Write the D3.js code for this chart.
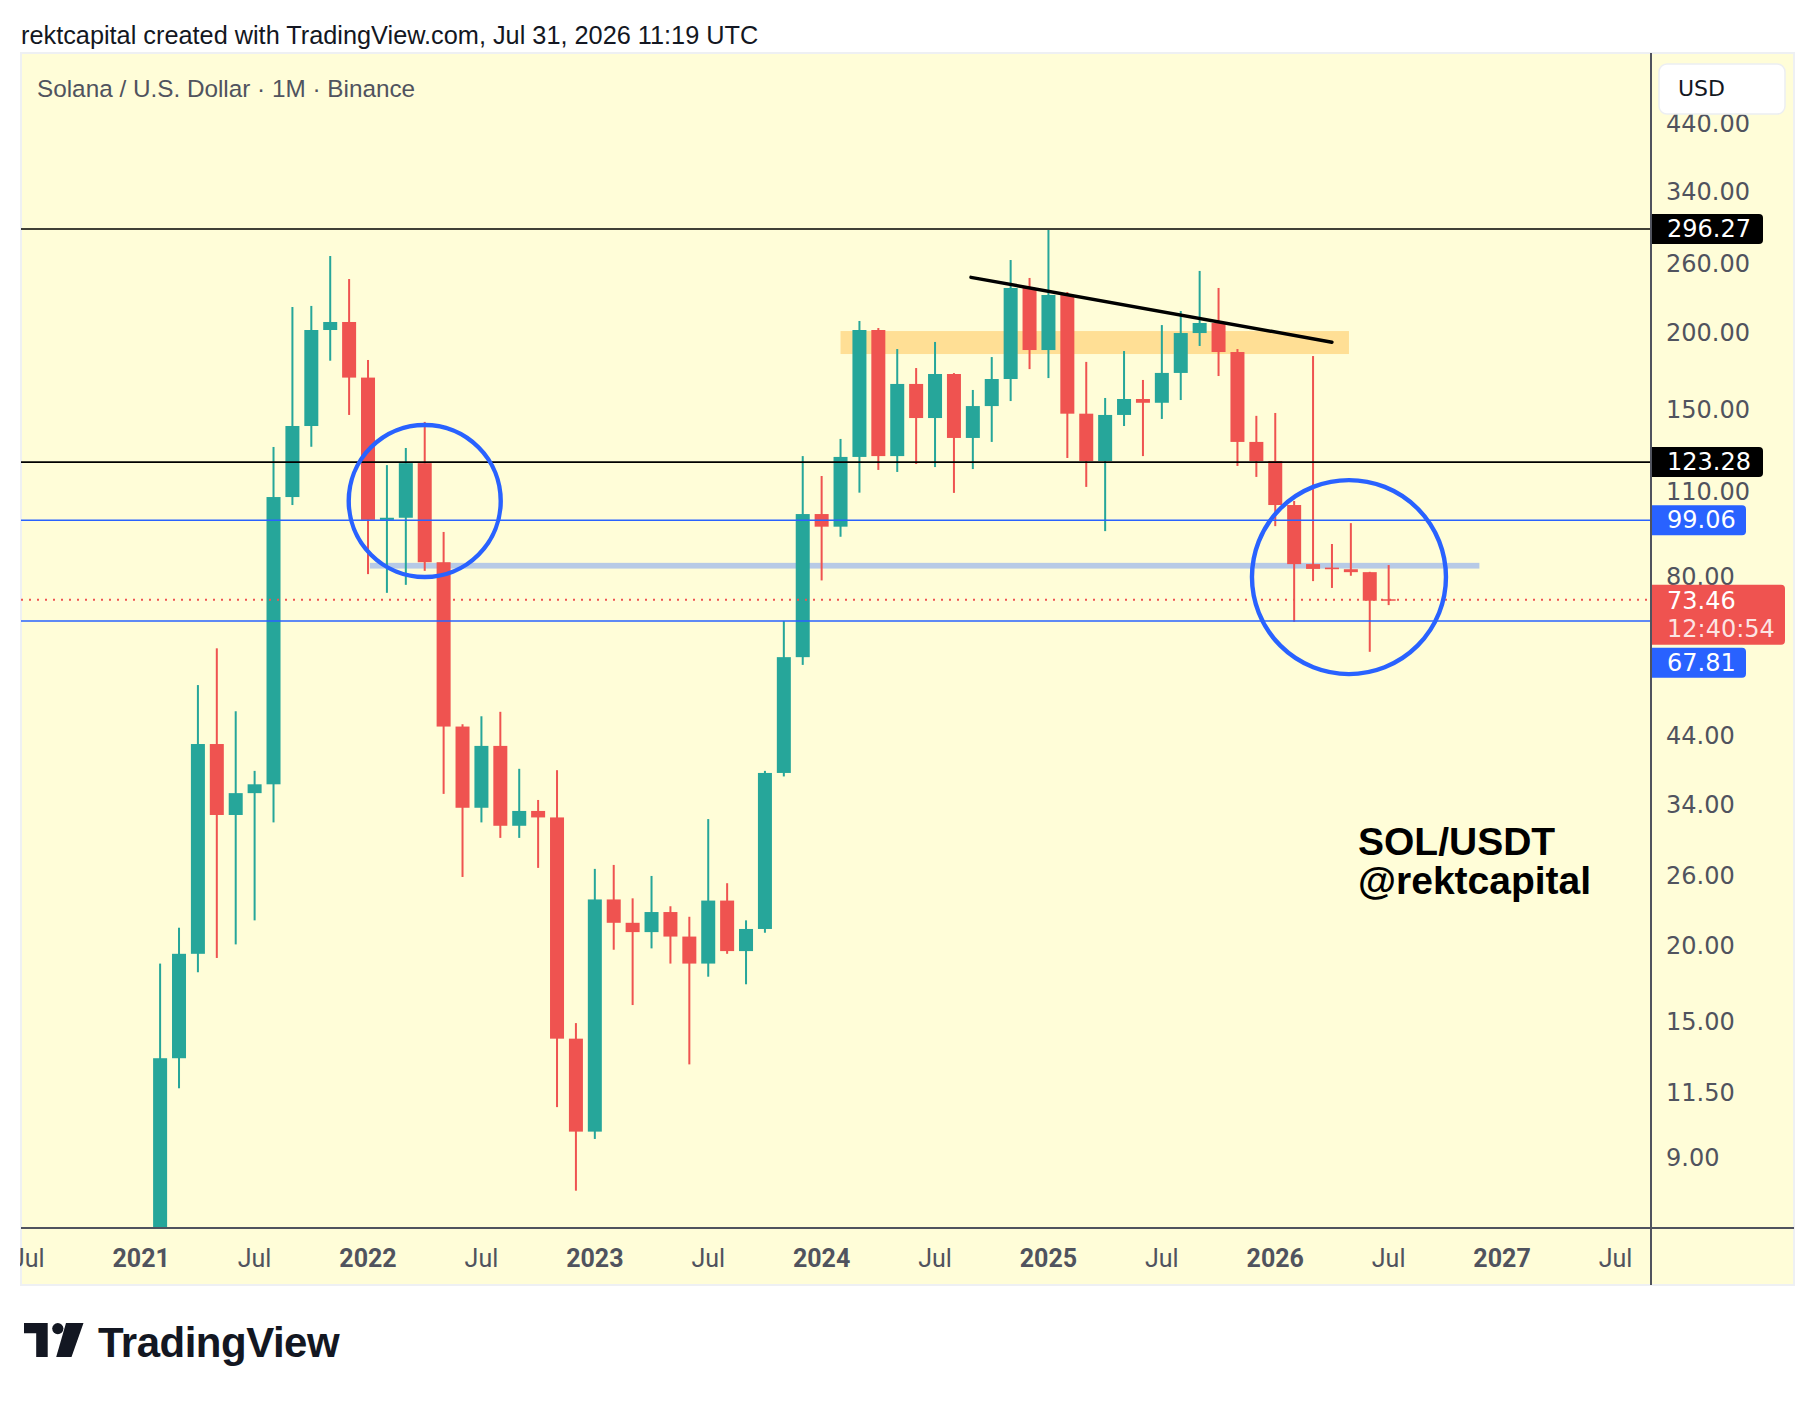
<!DOCTYPE html>
<html>
<head>
<meta charset="utf-8">
<script src="https://cdn.jsdelivr.net/npm/d3@7"></script>
<style>
  body { margin: 0; background: #ffffff; }
  svg { display: block; }
</style>
</head>
<body>
<script>
// monthly SOL/USDT candles
var months = ["2021-02","2021-03","2021-04","2021-05","2021-06","2021-07","2021-08","2021-09","2021-10","2021-11","2021-12",
  "2022-01","2022-02","2022-03","2022-04","2022-05","2022-06","2022-07","2022-08","2022-09","2022-10","2022-11","2022-12",
  "2023-01","2023-02","2023-03","2023-04","2023-05","2023-06","2023-07","2023-08","2023-09","2023-10","2023-11","2023-12",
  "2024-01","2024-02","2024-03","2024-04","2024-05","2024-06","2024-07","2024-08","2024-09","2024-10","2024-11","2024-12",
  "2025-01","2025-02","2025-03","2025-04","2025-05","2025-06","2025-07","2025-08","2025-09","2025-10","2025-11","2025-12",
  "2026-01","2026-02","2026-03","2026-04","2026-05","2026-06","2026-07"];
var opens = [4.2,13.1,19.4,42.7,32.7,35.5,36.7,108.1,141.2,202.6,208.8,
  169.4,99.2,100.0,122.8,84.6,45.6,33.6,42.4,31.4,33.2,32.4,14.1,
  9.94,23.8,21.8,21.05,22.7,20.7,18.7,23.7,19.6,21.3,38.3,59.2,
  101.4,96.7,125.7,202.6,126.1,165.4,145.5,171.7,135.0,152.2,168.5,237.3,
  187.9,231.1,147.9,123.8,147.2,156.3,154.1,172.4,200.3,208.0,186.5,133.0,
  123.8,104.9,84.0,82.9,82.4,81.5,73.6];
var highs = [18.7,21.4,53.3,61.2,48.3,38.6,130.5,220.9,221.8,267.6,245.4,
  181.0,121.9,130.0,143.4,94.8,46.0,47.4,48.2,38.9,34.6,38.7,14.95,
  26.7,27.1,23.9,26.0,23.2,22.3,32.2,25.3,22.0,38.6,67.8,126.1,
  117.0,134.5,209.6,204.1,188.6,175.6,193.7,172.3,161.7,183.0,263.6,246.4,
  295.1,233.7,179.7,156.9,187.2,167.9,206.4,217.6,253.0,237.3,188.6,146.7,
  148.3,106.5,183.7,90.6,98.0,81.6,83.7];
var lows = [3.6,11.7,18.1,19.1,20.1,22.0,31.8,104.9,130.6,180.5,147.2,
  80.9,75.4,77.7,81.9,35.4,25.9,31.8,30.0,30.0,26.8,10.9,7.96,
  9.67,19.7,16.0,19.8,18.7,12.8,17.8,19.4,17.3,21.0,37.8,57.5,
  79.0,93.1,109.9,119.7,118.8,122.4,121.0,109.8,120.1,133.0,155.1,174.9,
  169.1,125.2,112.3,95.1,141.2,126.1,145.0,155.7,190.8,170.4,121.5,116.6,
  96.9,67.6,78.8,76.8,80.4,60.4,72.0];
var closes = [13.1,19.4,42.7,32.7,35.5,36.7,108.1,141.2,202.6,208.8,169.4,
  99.2,100.0,122.8,84.6,45.6,33.6,42.4,31.4,33.2,32.4,14.1,9.94,
  23.8,21.8,21.05,22.7,20.7,18.7,23.7,19.6,21.3,38.3,59.2,101.4,
  96.7,125.7,202.6,126.1,165.4,145.5,171.7,135.0,152.2,168.5,237.3,187.9,
  231.1,147.9,123.8,147.2,156.3,154.1,172.4,200.3,208.0,186.5,133.0,123.8,
  104.9,84.0,82.5,82.4,81.5,73.2,73.46];

// price scale and time scale labels
var priceTicks = [440, 340, 260, 200, 150, 110, 80, 44, 34, 26, 20, 15, 11.5, 9];
var timeTickMonths = ["2020-07","2021-01","2021-07","2022-01","2022-07","2023-01","2023-07","2024-01","2024-07",
  "2025-01","2025-07","2026-01","2026-07","2027-01","2027-07"];
var timeTickLabels = ["Jul","2021","Jul","2022","Jul","2023","Jul","2024","Jul","2025","Jul","2026","Jul","2027","Jul"];

// drawings (months counted from Jan 2021)
var blackLevels = [296.27, 123.28];
var blueLevels = [99.06, 67.81];
var lastPrice = 73.46;
var countdown = "12:40:54";
var supplyZone = {from: 37.0, to: 63.9, low: 185.1, high: 201.8};
var retestBand = {from: 12.1, to: 70.8, low: 82.6, high: 84.4};
var trendLine = [{month: 43.9, price: 247.0}, {month: 63.0, price: 193.5}];
var circles = [{month: 15.0, price: 106.5, r: 76}, {month: 63.9, price: 80.0, r: 97}];

function monthIndex(s) {
  var p = s.split("-");
  return (+p[0] - 2021) * 12 + (+p[1] - 1);
}

var candles = months.map(function(m, i) {
  return {m: monthIndex(m), o: opens[i], h: highs[i], l: lows[i], c: closes[i]};
});

var W = 1814, H = 1402;
var panel = {left: 21, right: 1794, top: 53, bottom: 1285};
var plotRight = 1651, plotBottom = 1228;

var x = d3.scaleLinear().domain([-6.36, 79.88]).range([panel.left, plotRight]);
var y = d3.scaleLog().domain([6.918, 574.2]).range([plotBottom, panel.top]);

var green = "#26a69a", red = "#ef5350", blue = "#2962ff";
var axisFont = "'DejaVu Sans', sans-serif";

var svg = d3.select("body").append("svg")
  .attr("width", W)
  .attr("height", H);

svg.append("rect").attr("width", W).attr("height", H).attr("fill", "#ffffff");

// header
svg.append("text")
  .attr("x", 21).attr("y", 44)
  .attr("font-family", "'Liberation Sans', Arial, sans-serif")
  .attr("font-size", 25.3)
  .attr("fill", "#131722")
  .text("rektcapital created with TradingView.com, Jul 31, 2026 11:19 UTC");

// chart panel
svg.append("rect")
  .attr("x", panel.left).attr("y", panel.top)
  .attr("width", panel.right - panel.left).attr("height", panel.bottom - panel.top)
  .attr("fill", "#fffdd8")
  .attr("stroke", "#eef0f3").attr("stroke-width", 2);

svg.append("defs").append("clipPath").attr("id", "plot")
  .append("rect")
  .attr("x", panel.left).attr("y", panel.top)
  .attr("width", plotRight - panel.left).attr("height", plotBottom - panel.top);

var plot = svg.append("g").attr("clip-path", "url(#plot)");

// zones under the candles
function zone(z, fill) {
  plot.append("rect")
    .attr("x", x(z.from))
    .attr("y", y(z.high))
    .attr("width", x(z.to) - x(z.from))
    .attr("height", y(z.low) - y(z.high))
    .attr("fill", fill);
}
zone(supplyZone, "#ffdf95");
zone(retestBand, "#b7cae6");

// candles
var bodyW = 14;
var cg = plot.append("g").selectAll("g")
  .data(candles)
  .join("g");

cg.append("rect")
  .attr("x", function(d) { return x(d.m) - 1; })
  .attr("y", function(d) { return y(d.h); })
  .attr("width", 2)
  .attr("height", function(d) { return y(d.l) - y(d.h); })
  .attr("fill", function(d) { return d.c >= d.o ? green : red; });

cg.append("rect")
  .attr("x", function(d) { return x(d.m) - bodyW / 2; })
  .attr("y", function(d) { return y(Math.max(d.o, d.c)); })
  .attr("width", bodyW)
  .attr("height", function(d) { return Math.max(1.5, Math.abs(y(d.o) - y(d.c))); })
  .attr("fill", function(d) { return d.c >= d.o ? green : red; });

// horizontal levels
blackLevels.forEach(function(v) {
  plot.append("line")
    .attr("x1", panel.left).attr("x2", plotRight)
    .attr("y1", y(v)).attr("y2", y(v))
    .attr("stroke", "#000000").attr("stroke-width", 1.6);
});
blueLevels.forEach(function(v) {
  plot.append("line")
    .attr("x1", panel.left).attr("x2", plotRight)
    .attr("y1", y(v)).attr("y2", y(v))
    .attr("stroke", blue).attr("stroke-width", 1.6);
});
plot.append("line")
  .attr("x1", panel.left).attr("x2", plotRight)
  .attr("y1", y(lastPrice)).attr("y2", y(lastPrice))
  .attr("stroke", red).attr("stroke-width", 2)
  .attr("stroke-dasharray", "2,6");

// trend line
plot.append("line")
  .attr("x1", x(trendLine[0].month)).attr("y1", y(trendLine[0].price))
  .attr("x2", x(trendLine[1].month)).attr("y2", y(trendLine[1].price))
  .attr("stroke", "#000000").attr("stroke-width", 3.4).attr("stroke-linecap", "round");

// circles
plot.selectAll("circle.mark")
  .data(circles)
  .join("circle")
  .attr("class", "mark")
  .attr("cx", function(d) { return x(d.month); })
  .attr("cy", function(d) { return y(d.price); })
  .attr("r", function(d) { return d.r; })
  .attr("fill", "none")
  .attr("stroke", blue).attr("stroke-width", 4.4);

// watermark text
var wm = svg.append("text")
  .attr("font-family", "'Liberation Sans', Arial, sans-serif")
  .attr("font-weight", "bold")
  .attr("font-size", 39)
  .attr("fill", "#000000");
wm.append("tspan").attr("x", 1358).attr("y", 855).text("SOL/USDT");
wm.append("tspan").attr("x", 1358).attr("y", 894).text("@rektcapital");

// title
svg.append("text")
  .attr("x", 37).attr("y", 97)
  .attr("font-family", "'Liberation Sans', Arial, sans-serif")
  .attr("font-size", 24.3)
  .attr("fill", "#50535e")
  .text("Solana / U.S. Dollar \u00b7 1M \u00b7 Binance");

// axis separators
svg.append("line")
  .attr("x1", plotRight).attr("x2", plotRight)
  .attr("y1", panel.top).attr("y2", panel.bottom)
  .attr("stroke", "#50535e").attr("stroke-width", 2);
svg.append("line")
  .attr("x1", panel.left).attr("x2", panel.right)
  .attr("y1", plotBottom).attr("y2", plotBottom)
  .attr("stroke", "#50535e").attr("stroke-width", 2);

// time axis labels
var tg = svg.append("g");
timeTickMonths.forEach(function(m, i) {
  var isYear = timeTickLabels[i] !== "Jul";
  tg.append("text")
    .attr("x", x(monthIndex(m)))
    .attr("y", 1258)
    .attr("text-anchor", "middle")
    .attr("dominant-baseline", "central")
    .attr("font-family", "Roboto, sans-serif")
    .attr("font-size", 25)
    .attr("font-weight", isYear ? "bold" : "normal")
    .attr("fill", "#50535e")
    .text(timeTickLabels[i]);
});
svg.append("rect")
  .attr("x", 0).attr("y", plotBottom + 2).attr("width", panel.left - 1).attr("height", 60)
  .attr("fill", "#ffffff");

// price axis labels
var pg = svg.append("g");
priceTicks.forEach(function(v) {
  pg.append("text")
    .attr("x", 1666)
    .attr("y", y(v))
    .attr("dominant-baseline", "central")
    .attr("font-family", axisFont)
    .attr("font-size", 24)
    .attr("fill", "#50535e")
    .text(v.toFixed(2));
});

// price axis markers
function marker(cy, h, w, fill, lines) {
  var g = svg.append("g");
  g.append("path")
    .attr("d", "M" + (plotRight + 1) + "," + (cy - h / 2) +
      " h" + (w - 4) + " a4,4 0 0 1 4,4 v" + (h - 8) + " a4,4 0 0 1 -4,4 h" + (-(w - 4)) + " Z")
    .attr("fill", fill);
  lines.forEach(function(t, i) {
    g.append("text")
      .attr("x", 1667)
      .attr("y", cy - (lines.length - 1) * 14 + i * 28)
      .attr("dominant-baseline", "central")
      .attr("font-family", axisFont)
      .attr("font-size", 24)
      .attr("fill", i === 0 ? "#ffffff" : "rgba(255,255,255,0.85)")
      .text(t);
  });
}
blackLevels.forEach(function(v) { marker(y(v), 30, 111, "#000000", [v.toFixed(2)]); });
marker(y(blueLevels[0]), 30, 94, blue, [blueLevels[0].toFixed(2)]);
var redTop = y(lastPrice) - 15;
marker(redTop + 30, 60, 133, red, [lastPrice.toFixed(2), countdown]);
marker(Math.max(y(blueLevels[1]), redTop + 60 + 18), 30, 94, blue, [blueLevels[1].toFixed(2)]);

// currency button
svg.append("rect")
  .attr("x", 1659).attr("y", 64).attr("width", 126).attr("height", 50).attr("rx", 8)
  .attr("fill", "#ffffff").attr("stroke", "#eceef2").attr("stroke-width", 1.5);
svg.append("text")
  .attr("x", 1678).attr("y", 88)
  .attr("dominant-baseline", "central")
  .attr("font-family", axisFont)
  .attr("font-size", 22)
  .attr("fill", "#131722")
  .text("USD");

// TradingView logo
var logo = svg.append("g").attr("transform", "translate(24,1323)").attr("fill", "#131722");
logo.append("path").attr("d", "M0,0 H23.7 V34 H12.2 V10.3 H0 Z");
logo.append("circle").attr("cx", 33.8).attr("cy", 5.6).attr("r", 5.6);
logo.append("path").attr("d", "M42,0 H59.5 L47.5,34 H32.2 Z");
svg.append("text")
  .attr("x", 98).attr("y", 1357)
  .attr("font-family", "'Liberation Sans', Arial, sans-serif")
  .attr("font-weight", "bold")
  .attr("font-size", 42)
  .attr("letter-spacing", -0.5)
  .attr("fill", "#131722")
  .text("TradingView");
</script>
</body>
</html>
